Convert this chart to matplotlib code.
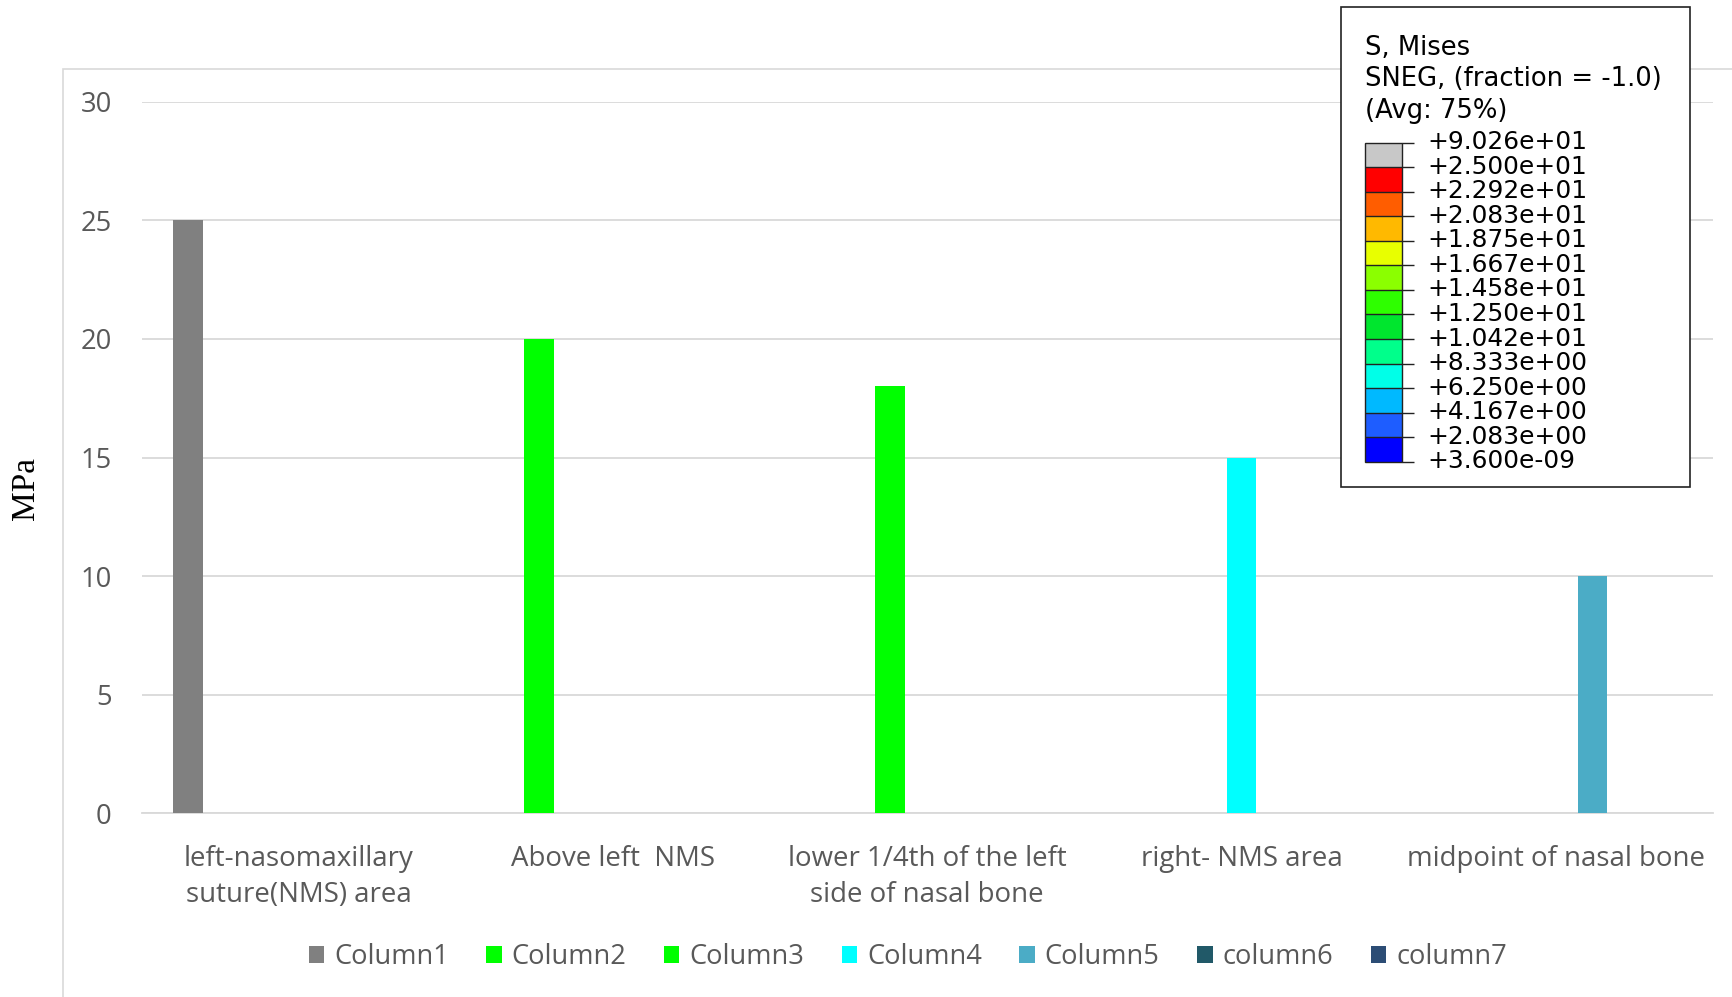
import numpy as np
import matplotlib
matplotlib.use("Agg")
import matplotlib.pyplot as plt
from matplotlib.patches import Rectangle
from matplotlib.colors import ListedColormap, BoundaryNorm
from matplotlib.colorbar import ColorbarBase
from matplotlib.transforms import ScaledTranslation

# ---- data ----
categories = [
    "left-nasomaxillary\nsuture(NMS) area",
    "Above left  NMS",
    "lower 1/4th of the left\nside of nasal bone",
    "right- NMS area",
    "midpoint of nasal bone",
]
series_names = ["Column1", "Column2", "Column3", "Column4", "Column5", "column6", "column7"]
nan = np.nan
column1 = [25, nan, nan, nan, nan]
column2 = [nan, 20, nan, nan, nan]
column3 = [nan, nan, 18, nan, nan]
column4 = [nan, nan, nan, 15, nan]
column5 = [nan, nan, nan, nan, 10]
column6 = [nan, nan, nan, nan, nan]
column7 = [nan, nan, nan, nan, nan]
series_values = [column1, column2, column3, column4, column5, column6, column7]
series_colors = ["#808080", "#00FF00", "#00FF00", "#00FFFF", "#4BACC6", "#215968", "#2C4D75"]
y_ticks = [0, 5, 10, 15, 20, 25, 30]

# contour legend (stress scale)
contour_title = ["S, Mises", "SNEG, (fraction = -1.0)", "(Avg: 75%)"]
contour_labels = ["+9.026e+01", "+2.500e+01", "+2.292e+01", "+2.083e+01", "+1.875e+01",
                  "+1.667e+01", "+1.458e+01", "+1.250e+01", "+1.042e+01", "+8.333e+00",
                  "+6.250e+00", "+4.167e+00", "+2.083e+00", "+3.600e-09"]
contour_colors = ["#0000FF", "#1E5DFF", "#00B9FF", "#00FFE8", "#00FF8B", "#00E62E",
                  "#2EFF00", "#8BFF00", "#E8FF00", "#FFB900", "#FF5D00", "#FF0000",
                  "#C8C8C8"]  # bottom to top

W, H = 1733, 997
fig = plt.figure(figsize=(W / 100, H / 100), dpi=100)
fig.patch.set_facecolor("white")

def fx(px):
    return px / W

def fy(py):
    return 1 - py / H

# chart area border
fig.patches.append(Rectangle((fx(62.7), -0.2), 1.5, fy(69.3) + 0.2,
                             transform=fig.transFigure, fill=False,
                             edgecolor="#D9D9D9", linewidth=1.2, zorder=0))

ax = fig.add_axes([fx(141.7), fy(813.4), fx(1712.7) - fx(141.7), fy(101.7) - fy(813.4)])
text_gray = "#595959"
sans = ["Open Sans", "DejaVu Sans"]

x = np.arange(len(categories))
slot = 0.1176
bar_w = 0.0945
n = len(series_names)
for k, (name, vals, col) in enumerate(zip(series_names, series_values, series_colors)):
    ax.bar(x + (k - (n - 1) / 2) * slot, vals, width=bar_w, color=col, label=name, zorder=3)

ax.set_xlim(-0.5, len(categories) - 0.5)
ax.set_ylim(0, 30)
ax.set_yticks(y_ticks)
ax.yaxis.grid(True, color="#D9D9D9", linewidth=1.3, zorder=0)
ax.set_axisbelow(True)
for s in ["top", "right", "left"]:
    ax.spines[s].set_visible(False)
ax.spines["bottom"].set_color("#D9D9D9")
ax.spines["bottom"].set_linewidth(1.3)
ax.tick_params(axis="y", length=0, pad=21.6, labelsize=19.7, labelcolor=text_gray)
ax.set_xticks(x)
ax.set_xticklabels(categories)
ax.tick_params(axis="x", length=0, pad=22.5, labelsize=19.9, labelcolor=text_gray)
for lbl in ax.get_yticklabels() + ax.get_xticklabels():
    lbl.set_family(sans)
for lbl in ax.get_xticklabels():
    lbl.set_linespacing(1.42)

fig.text(fx(26), fy(488), "MPa", rotation=90, ha="center", va="center",
         family=["Liberation Serif", "DejaVu Serif"], fontsize=24, color="black")

leg = fig.legend(loc="center", bbox_to_anchor=(0.5238, fy(957)), ncol=n, frameon=False,
                 handlelength=0.57, handleheight=0.57, handletextpad=0.36,
                 columnspacing=1.38, borderpad=0, prop={"family": sans, "size": 19.6})
for t in leg.get_texts():
    t.set_color(text_gray)

# contour legend box
fig.patches.append(Rectangle((fx(1340.7), fy(486.7)), fx(1690) - fx(1340.7), fy(6.7) - fy(486.7),
                             transform=fig.transFigure, facecolor="white",
                             edgecolor="#222222", linewidth=1.2, zorder=5))
for i, line in enumerate(contour_title):
    fig.text(fx(1365), fy(48.5 + i * 31), line, ha="left", va="center",
             family="DejaVu Sans", fontsize=18.6, color="black", zorder=6)

cax = fig.add_axes([fx(1365.3), fy(461.7), fx(1402) - fx(1365.3), fy(142.7) - fy(461.7)], zorder=6)
nseg = len(contour_colors)
cmap = ListedColormap(contour_colors)
norm = BoundaryNorm(np.arange(nseg + 1), nseg)
cb = ColorbarBase(cax, cmap=cmap, norm=norm, boundaries=np.arange(nseg + 1),
                  orientation="vertical", drawedges=True)
cb.outline.set_edgecolor("#222222")
cb.outline.set_linewidth(1.0)
cb.dividers.set_color("#222222")
cb.dividers.set_linewidth(1.0)
cb.set_ticks(np.arange(nseg + 1))
cb.set_ticklabels(contour_labels[::-1])
cax.tick_params(axis="y", length=8.6, width=1.0, color="#222222", pad=9.5,
                labelsize=17.9, labelcolor="black")
lift = ScaledTranslation(0, 3.0 / 100, fig.dpi_scale_trans)
for lbl in cax.get_yticklabels():
    lbl.set_family("DejaVu Sans")
    lbl.set_transform(lbl.get_transform() + lift)

fig.savefig("out.png", dpi=100, facecolor="white")
